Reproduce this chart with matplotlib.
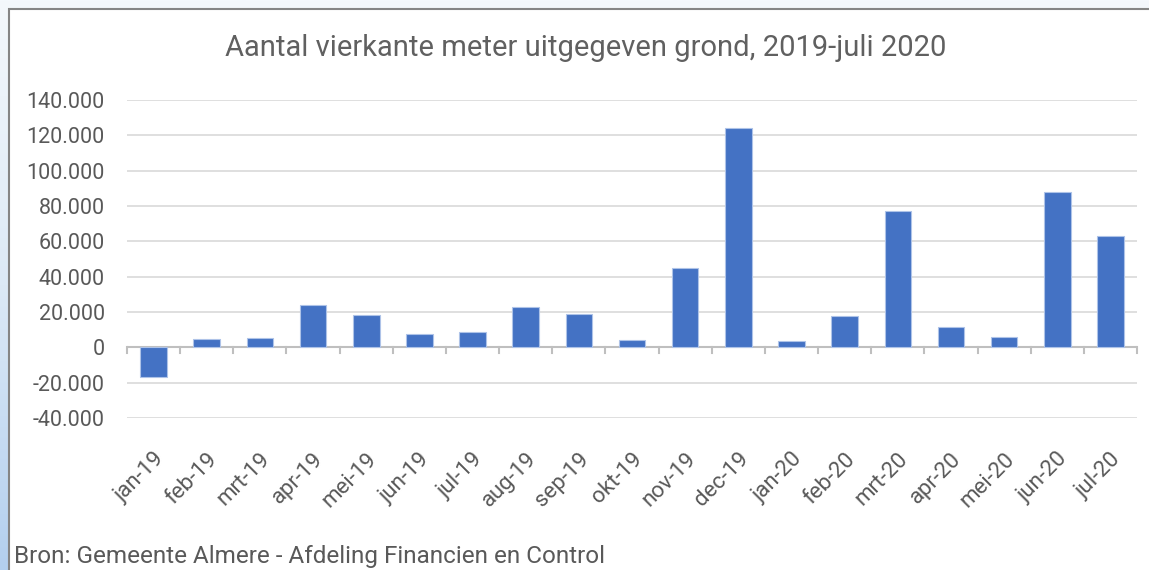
import matplotlib
matplotlib.use("Agg")
import matplotlib.pyplot as plt
import numpy as np
from matplotlib.patches import Rectangle
from matplotlib.colors import LinearSegmentedColormap
from matplotlib.ticker import FuncFormatter

categories = ["jan-19", "feb-19", "mrt-19", "apr-19", "mei-19", "jun-19", "jul-19",
              "aug-19", "sep-19", "okt-19", "nov-19", "dec-19", "jan-20", "feb-20",
              "mrt-20", "apr-20", "mei-20", "jun-20", "jul-20"]
values = [-17000, 4500, 5100, 23800, 18100, 7300, 8500, 22600, 18700, 4000,
          44800, 124000, 3400, 17600, 77000, 11300, 5700, 87800, 62900]
yticks = [-40000, -20000, 0, 20000, 40000, 60000, 80000, 100000, 120000, 140000]
title = "Aantal vierkante meter uitgegeven grond, 2019-juli 2020"
source = "Bron: Gemeente Almere - Afdeling Financien en Control"

plt.rcParams['font.family'] = ['Roboto', 'DejaVu Sans']
W, H = 1149, 570
fig = plt.figure(figsize=(W / 100, H / 100), dpi=100)

# gradient background (window edge)
bg = fig.add_axes([0, 0, 1, 1], zorder=-10)
cmap = LinearSegmentedColormap.from_list("edge", ["#f4f8fc", "#dce9f6", "#b3cfee"])
bg.imshow(np.linspace(0, 1, 256).reshape(-1, 1), aspect="auto", cmap=cmap,
          extent=[0, 1, 0, 1], origin="upper")
bg.set_axis_off()

# chart frame
frame = Rectangle((8.5 / W, -0.01), 1.02, (H - 8.5) / H + 0.01, transform=fig.transFigure,
                  facecolor="white", edgecolor="#858585", linewidth=1.5, zorder=-5)
fig.patches.append(frame)

ax = fig.add_axes([127 / W, 1 - 418 / H, (1137 - 127) / W, (418 - 100) / H])
ax.set_zorder(2)
ax.set_facecolor("none")
x = list(range(len(categories)))
ax.bar(x, values, width=0.5, color="#4472C4", edgecolor="#aec3e8", linewidth=0.8, zorder=3)
ax.set_xlim(-0.5, len(categories) - 0.5)
ax.set_ylim(yticks[0], yticks[-1])
ax.set_yticks(yticks)
ax.yaxis.set_major_formatter(FuncFormatter(lambda v, p: f"{int(v):,}".replace(",", ".")))
ax.grid(axis="y", color="#d9d9d9", linewidth=1.2, zorder=0)
ax.axhline(0, color="#bfbfbf", linewidth=1.5, zorder=2)
for s in ax.spines.values():
    s.set_visible(False)
ax.tick_params(axis="y", length=0, pad=16, labelsize=15.5, labelcolor="#595959")

# category labels
ax.set_xticks(x)
ax.set_xticklabels(categories, rotation=45, ha="right", rotation_mode="anchor",
                   fontsize=16, color="#595959")
ax.tick_params(axis="x", length=0, pad=22)
# boundary tick marks at zero line
for b in [i - 0.5 for i in range(len(categories) + 1)]:
    ax.plot([b, b], [0, -3200], color="#bfbfbf", linewidth=1.5, zorder=2, clip_on=False)

fig.text(586 / W, 1 - 48 / H, title, ha="center", va="center", fontsize=21,
         color="#606060")
fig.text(14 / W, 1 - 556 / H, source, ha="left", va="center", fontsize=17.5, color="#595959")

fig.savefig("out.png", dpi=100)
